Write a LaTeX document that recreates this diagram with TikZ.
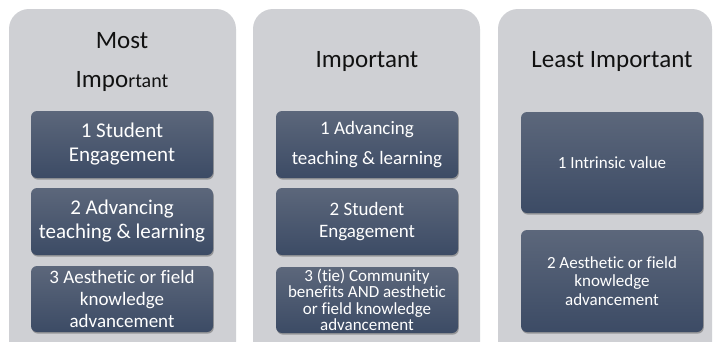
\documentclass[tikz,border=0pt]{standalone}
\usepackage{fontspec}
\setmainfont{Carlito}[Ligatures=NoCommon]
\definecolor{panelgray}{HTML}{CFD0D4}
\definecolor{boxtop}{HTML}{5C677B}
\definecolor{boxbot}{HTML}{3C4B65}
\definecolor{titlecol}{HTML}{111111}
\tikzset{
  panel/.style={fill=panelgray, draw=none, rounded corners=20pt},
  rankbox/.style={rounded corners=6pt, top color=boxtop, bottom color=boxbot, draw=none,
    minimum width=182pt, text=white, align=center, inner sep=0pt,
    preaction={fill=black, fill opacity=0.28, transform canvas={xshift=0.8pt, yshift=-1.6pt}}},
  ptitle/.style={text=titlecol, anchor=base, inner sep=0pt, font=\fontsize{25}{30}\selectfont},
}
\begin{document}
\begin{tikzpicture}[x=1pt,y=-1pt]
\useasboundingbox (0,0) rectangle (713,341);
\clip (0,0) rectangle (713,341);
\fill[white] (0,0) rectangle (713,341);
% panels
\path[panel] (9,9) rectangle (236,370);
\path[panel] (253,9) rectangle (480,370);
\path[panel] (498,9) rectangle (712,370);
% titles
\node[ptitle] (t1a) at (122,48) {Most};
\node[ptitle] (t1b) at (122,87) {Impo{\fontsize{20}{24}\selectfont rtant}};
\node[ptitle] (t2) at (367,67) {Important};
\node[ptitle] (t3) at (612,67) {Least Important};
% panel 1 boxes
\node[rankbox, minimum height=67pt, font=\fontsize{21}{24}\selectfont] (a1) at (122,144.5) {1 Student\\Engagement};
\node[rankbox, minimum height=67pt, font=\fontsize{21}{24}\selectfont] (a2) at (122,221.5) {2 Advancing\\teaching \& learning};
\node[rankbox, minimum height=66pt, font=\fontsize{19}{21.7}\selectfont] (a3) at (122,299) {3 Aesthetic or field\\knowledge\\advancement};
% panel 2 boxes
\node[rankbox, minimum height=67pt, font=\fontsize{19}{30}\selectfont] (b1) at (367,144.5) {1 Advancing\\teaching \& learning};
\node[rankbox, minimum height=67pt, font=\fontsize{19}{21.5}\selectfont] (b2) at (367,221.5) {2 Student\\Engagement};
\node[rankbox, minimum height=66pt, font=\fontsize{17}{16.4}\selectfont] (b3) at (367,300) {3 (tie) Community\\benefits AND aesthetic\\or field knowledge\\advancement};
% panel 3 boxes
\node[rankbox, minimum height=101pt, font=\fontsize{17}{18.3}\selectfont] (c1) at (612,162.5) {1 Intrinsic value};
\node[rankbox, minimum height=102pt, font=\fontsize{17}{18.3}\selectfont] (c2) at (612,281) {2 Aesthetic or field\\knowledge\\advancement};
\end{tikzpicture}
\end{document}
